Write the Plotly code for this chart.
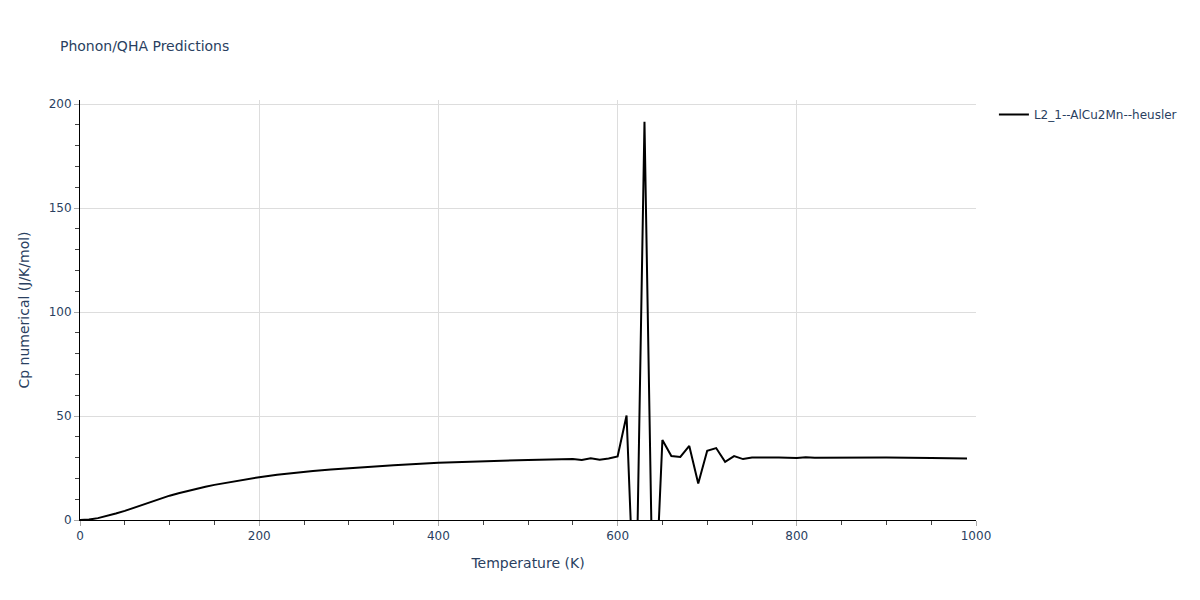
import plotly.graph_objects as go

temperature = [0, 10, 20, 30, 40, 50, 60, 70, 80, 90, 100, 110, 120, 130, 140, 150,
               160, 170, 180, 190, 200, 220, 240, 260, 280, 300, 350, 400, 450, 500,
               550, 560, 570, 580, 590, 600, 610, 620, 630, 640, 650, 660, 670, 680,
               690, 700, 710, 720, 730, 740, 750, 760, 780, 800, 810, 820, 850, 900,
               950, 990]
cp = [0.0, 0.2, 0.9, 1.9, 3.1, 4.4, 5.9, 7.4, 8.9, 10.3, 11.7, 12.9, 14.0, 15.0, 16.0, 16.9,
      17.7, 18.5, 19.2, 19.9, 20.6, 21.8, 22.8, 23.6, 24.3, 24.9, 26.3, 27.5, 28.3, 28.9,
      29.3, 28.9, 29.7, 29.0, 29.6, 30.6, 50.3, -60.0, 191.5, -60.0, 38.5, 30.8, 30.3, 35.6,
      17.6, 33.3, 34.6, 28.0, 30.7, 29.3, 30.0, 30.1, 30.0, 29.8, 30.2, 29.9, 30.0, 30.0,
      29.8, 29.6]
series_name = "L2_1--AlCu2Mn--heusler"

fig = go.Figure()
fig.add_trace(go.Scatter(x=temperature, y=cp, mode="lines", name=series_name,
                         line=dict(color="black", width=2)))

fig.update_layout(
    template="plotly_white",
    width=1200, height=600,
    margin=dict(l=72, r=232, t=92, b=88),
    title=dict(text="Phonon/QHA Predictions", x=0.0433, y=0.945, font=dict(size=14, color="#2a3f5f")),
    showlegend=True,
    legend=dict(x=1.02, y=1.0, xanchor="left", yanchor="top", font=dict(size=12)),
    font=dict(family="DejaVu Sans, Verdana, sans-serif", color="#2a3f5f", size=12),
)
fig.update_xaxes(title=dict(text="Temperature (K)", font=dict(size=14)), range=[0, 1000],
                 dtick=200, showline=True, linecolor="black", linewidth=1,
                 ticks="outside", tickcolor="#aaa", ticklen=5,
                 minor=dict(dtick=50, ticks="outside", ticklen=4, tickcolor="#444", showgrid=False),
                 showgrid=True, gridcolor="#ddd", zeroline=False)
fig.update_yaxes(title=dict(text="Cp numerical (J/K/mol)", font=dict(size=14)), range=[0, 202],
                 dtick=50, showline=True, linecolor="black", linewidth=1,
                 ticks="outside", tickcolor="#aaa", ticklen=5,
                 minor=dict(dtick=10, ticks="outside", ticklen=4, tickcolor="#444", showgrid=False),
                 showgrid=True, gridcolor="#ddd", zeroline=False)

fig.write_html("out.html")
